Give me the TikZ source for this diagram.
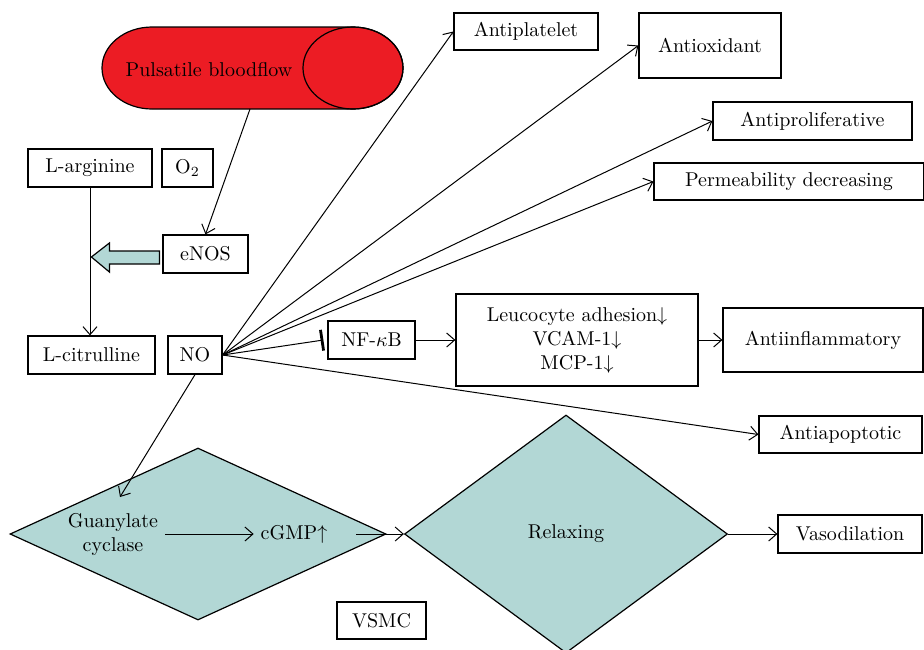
\documentclass[tikz,border=0pt]{standalone}
\usepackage{amsmath,amssymb}
\usepackage{tikz}
\usetikzlibrary{positioning,arrows.meta,shapes.geometric}
\definecolor{bloodred}{RGB}{236,28,36}
\definecolor{cellblue}{RGB}{178,215,213}

\begin{document}
\begin{tikzpicture}[x=0.5pt,y=-0.5pt,
    box/.style={draw,fill=white,inner sep=0pt,line width=0.6pt},
    cell/.style={draw,diamond,fill=cellblue,inner sep=0pt,line width=0.6pt},
    conn/.style={-{Straight Barb[length=4pt,width=7pt]},line width=0.5pt}]
    \useasboundingbox (0,0) rectangle (924,649);

    % smooth muscle cell
    \node[cell,minimum width=188pt,minimum height=86pt] (gcell) at (198,534) {};
    \node[cell,minimum width=161.5pt,minimum height=119pt] (relax) at (566,534) {Relaxing};
    \node[align=center] (gc) at (113,534) {Guanylate\\cyclase};
    \node (cgmp) at (294,534) {cGMP$\uparrow$};
    \node[box,minimum width=44.5pt,minimum height=18.5pt] (vsmc) at (381.5,620.5) {VSMC};
    \coordinate (gcin) at (120,497);

    % endothelium
    \draw[fill=bloodred,line width=0.6pt] (152,27) -- (353,27)
        arc[start angle=90,end angle=-90,x radius=25pt,y radius=20.5pt] -- (152,109)
        arc[start angle=270,end angle=90,x radius=25pt,y radius=20.5pt] -- cycle;
    \draw[line width=0.6pt] (353,68) ellipse[x radius=25pt,y radius=20.5pt];
    \node (flow) at (209,70) {Pulsatile bloodflow};
    \coordinate (flowbase) at (250,109);

    \node[box,minimum width=62pt,minimum height=19pt] (arg) at (90,168) {L-arginine};
    \node[box,minimum width=25.5pt,minimum height=19pt] (oxy) at (187.5,168) {O$_2$};
    \node[box,minimum width=42.5pt,minimum height=19pt] (enos) at (205.5,254) {eNOS};
    \node[box,minimum width=63.5pt,minimum height=19pt] (cit) at (91.5,355) {L-citrulline};
    \node[box,minimum width=27pt,minimum height=19pt] (no) at (195,355) {NO};

    % effects
    \node[box,minimum width=72pt,minimum height=18.5pt] (antiplat) at (526,31.5) {Antiplatelet};
    \node[box,minimum width=71pt,minimum height=32.5pt] (antiox) at (710,45.5) {Antioxidant};
    \node[box,minimum width=99.5pt,minimum height=19pt] (antiprol) at (812.5,121) {Antiproliferative};
    \node[box,minimum width=135pt,minimum height=18.5pt] (perm) at (789,181.5) {Permeability decreasing};
    \node[box,minimum width=43.5pt,minimum height=19pt] (nfkb) at (371.5,340) {NF-$\kappa$B};
    \node[box,align=center,minimum width=121pt,minimum height=46pt] (leuco) at (577,340)
        {Leucocyte adhesion$\downarrow$\\VCAM-1$\downarrow$\\MCP-1$\downarrow$};
    \node[box,minimum width=100pt,minimum height=32pt] (antiinfl) at (823,340) {Antiinflammatory};
    \node[box,minimum width=81.5pt,minimum height=18.5pt] (antiapop) at (840.5,434.5) {Antiapoptotic};
    \node[box,minimum width=72pt,minimum height=19pt] (vaso) at (850,534) {Vasodilation};

    \draw[conn] (flowbase) -- (enos.north);
    \draw[conn] (arg.south) -- (arg.south |- cit.north);
    \draw[fill=cellblue,line width=0.6pt] (enos.west) ++(-3,-3) -- ++(-50,0) -- ++(0,-8)
        -- ++(-18,14) -- ++(18,15) -- ++(0,-8) -- ++(50,0) -- cycle;

    \draw[conn] (no.east) -- (antiplat.west);
    \draw[conn] (no.east) -- (antiox.west);
    \draw[conn] (no.east) -- (antiprol.west);
    \draw[conn] (no.east) -- (perm.west);
    \draw[-{Bar[width=10.5pt,line width=1.4pt]},line width=0.5pt] (no.east) -- ([xshift=-2pt]nfkb.west);
    \draw[conn] (no.east) -- (antiapop.west);
    \draw[conn] (nfkb.east) -- (leuco.west);
    \draw[conn] (leuco.east) -- (antiinfl.west);

    \draw[conn] (no.south) -- (gcin);
    \draw[conn] (gc.east) -- (cgmp.west);
    \draw[conn,shorten <=11pt] (cgmp.east) -- (relax.west);
    \draw[conn] (relax.east) -- (vaso.west);
\end{tikzpicture}
\end{document}
